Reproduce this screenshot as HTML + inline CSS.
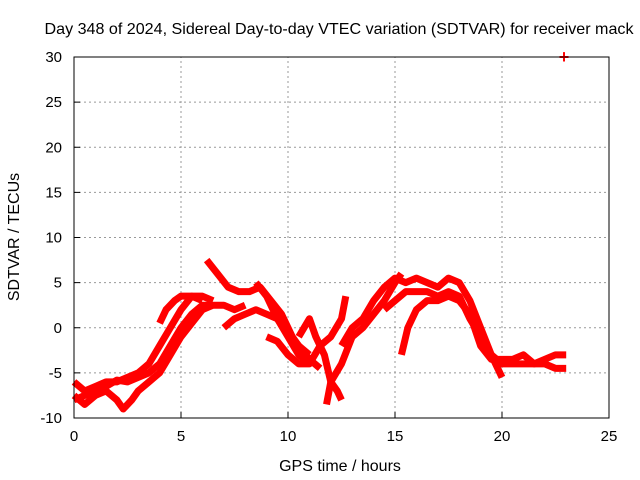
<!DOCTYPE html>
<html><head><meta charset="utf-8"><style>
body{margin:0;background:#fff}
svg{display:block;font-family:"Liberation Sans",sans-serif}
</style></head><body>
<svg id="chart" width="640" height="480">
<rect width="640" height="480" fill="#fff"/>
<g id="grid"></g>
<g id="series"></g>
<g id="axes"></g>
<text x="339" y="34" text-anchor="middle" font-size="16" textLength="589" lengthAdjust="spacingAndGlyphs">Day 348 of 2024, Sidereal Day-to-day VTEC variation (SDTVAR) for receiver mack</text>
<text x="340" y="471" text-anchor="middle" font-size="16">GPS time / hours</text>
<text transform="translate(19,237) rotate(-90)" text-anchor="middle" font-size="16">SDTVAR / TECUs</text>
</svg>
<script>
const xTicks=[0,5,10,15,20,25];
const yTicks=[-10,-5,0,5,10,15,20,25,30];
const track1=[[0,-7.5],[0.5,-8.5],[1,-7.5],[1.5,-7],[2,-8],[2.3,-9],[2.7,-8],[3,-7],[3.5,-6],[4,-5],[4.5,-3],[5,-1],[5.5,0.5],[6,2],[6.5,2.5],[7,2.5],[7.5,2],[8,2.5]];
const track2=[[0,-6],[0.5,-7],[1,-6.5],[1.5,-6],[2,-6],[2.5,-5.5],[3,-5],[3.5,-4],[4,-2],[4.5,0],[5,2],[5.5,3.5],[6,3.5],[6.5,3]];
const track3=[[4,0.5],[4.3,2],[4.7,3],[5,3.5],[5.5,3.5],[6,3]];
const track4=[[0,-8],[0.5,-7.5],[1,-7],[1.5,-6.5],[2,-5.8],[2.5,-6],[3,-5.5],[3.5,-5],[4,-4],[4.5,-2],[5,0],[5.5,1.5],[6,2.5],[6.5,2.5]];
const track5=[[6.2,7.5],[6.7,6],[7.2,4.5],[7.7,4],[8.2,4],[8.7,4.5],[9.2,3],[9.7,1.5],[10.2,-1],[10.5,-2],[11,-3]];
const track6=[[7,0],[7.5,1],[8,1.5],[8.5,2],[9,1.5],[9.5,1],[10,-1],[10.5,-3],[11,-4]];
const track7=[[8.5,5],[9,3.5],[9.5,1],[10,-0.5],[10.5,-2],[11,-3.5],[11.5,-4.5]];
const track8=[[9,-1],[9.5,-1.5],[10,-3],[10.5,-4],[11,-4],[11.5,-2],[12,-1],[12.5,1],[12.7,3.5]];
const track9=[[10.5,-1],[11,1],[11.3,-1],[11.7,-3],[12,-6],[12.3,-7],[12.5,-8]];
const track10=[[11.8,-8.5],[12,-6],[12.5,-4],[13,-1],[13.5,0],[14,1.5],[14.5,3],[15,5],[15.3,6]];
const track11=[[12.5,-2],[13,0],[13.5,1],[14,3],[14.5,4.5],[15,5.5],[15.5,5],[16,5.5],[16.5,5],[17,4.5],[17.5,5.5],[18,5],[18.5,3],[19,0],[19.5,-3],[20,-5.5]];
const track12=[[14.5,2],[15,3],[15.5,4],[16,4],[16.5,4],[17,3.5],[17.5,4],[18,3.5],[18.5,1],[19,-1],[19.5,-3],[20,-4],[20.5,-4],[21,-4],[21.5,-4],[22,-4],[22.5,-4.5],[23,-4.5]];
const track13=[[15.3,-3],[15.6,0],[16,2],[16.5,3],[17,3],[17.5,3.5],[18,3],[18.5,1.5],[19,-2],[19.5,-3.5],[20,-3.5],[20.5,-3.5],[21,-3],[21.5,-4],[22,-3.5],[22.5,-3],[23,-3]];
const outlier=[[22.9,30]];
const tracks=[track1,track2,track3,track4,track5,track6,track7,track8,track9,track10,track11,track12,track13];

const X0=74,X1=609,Y0=418,Y1=57;
const sx=v=>X0+(v-0)/25*(X1-X0);
const sy=v=>Y0-(v+10)/40*(Y0-Y1);
const NS="http://www.w3.org/2000/svg";
function mk(tag,attrs,parent){const e=document.createElementNS(NS,tag);for(const k in attrs)e.setAttribute(k,attrs[k]);parent.appendChild(e);return e;}
const grid=document.getElementById('grid'),axes=document.getElementById('axes'),ser=document.getElementById('series');
xTicks.forEach(t=>{
  if(t>0&&t<25){const l=mk('line',{x1:sx(t),x2:sx(t),y1:Y0,y2:Y1,stroke:'#999','stroke-dasharray':'2,3'},grid);
  
  }
  const tk=mk('line',{x1:sx(t),x2:sx(t),y1:Y0,y2:Y0-6,stroke:'#000'},axes);
  
  
  const tx=mk('text',{x:sx(t),y:Y0+23,'text-anchor':'middle','font-size':15},axes);tx.textContent=t;
  
  
});
yTicks.forEach(t=>{
  if(t>-10&&t<30){const l=mk('line',{x1:X0,x2:X1,y1:sy(t),y2:sy(t),stroke:'#999','stroke-dasharray':'2,3'},grid);
  
  }
  const tk=mk('line',{x1:X0,x2:X0+6,y1:sy(t),y2:sy(t),stroke:'#000'},axes);
  
  
  const tx=mk('text',{x:X0-12,y:sy(t)+5,'text-anchor':'end','font-size':15},axes);tx.textContent=t;
  
  
});
const fr=mk('rect',{x:X0,y:Y1,width:X1-X0,height:Y0-Y1,fill:'none',stroke:'#000'},axes);


tracks.forEach((tr,i)=>{
  const p=mk('polyline',{points:tr.map(d=>sx(d[0])+','+sy(d[1])).join(' '),fill:'none',stroke:'#f00','stroke-width':7,'stroke-linejoin':'round','stroke-linecap':'butt'},ser);
  
  
});
outlier.forEach(d=>{
  const t=mk('text',{x:sx(d[0]),y:sy(d[1])+6,'text-anchor':'middle','font-size':18,'font-weight':'bold',fill:'#f00'},ser);t.textContent='+';
  
  
});
</script>
</body></html>
